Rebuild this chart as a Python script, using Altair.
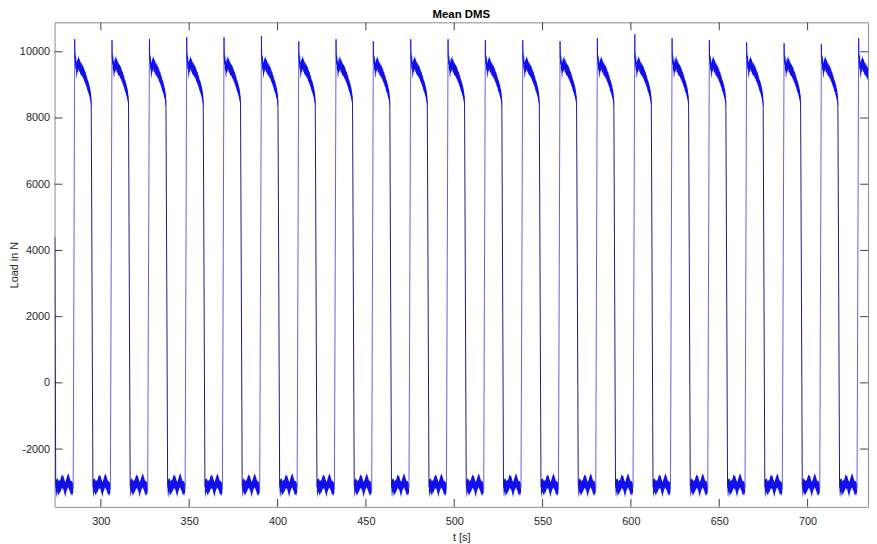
import altair as alt
import pandas as pd

# ---- values ----
# time (s) at the top of each rising edge, and the peak load (N) reached there
RISE_T = [285.2, 306.3, 327.5, 348.6, 369.7, 390.9, 412.0, 433.1, 454.2, 475.4, 496.5,
          517.6, 538.8, 559.9, 581.0, 602.2, 623.3, 644.4, 665.5, 686.7, 707.8, 728.9]
PEAK_V = [10380, 10350, 10380, 10440, 10440, 10470, 10320, 10380, 10320, 10380, 10380,
          10350, 10350, 10320, 10410, 10530, 10410, 10350, 10290, 10260, 10230, 10410]

# high (loaded) phase, seconds after the rising edge: upper / lower edge of the noisy trace
HIGH_DT = [0.1, 0.3, 0.5, 0.7, 0.9, 1.1, 1.3, 1.5, 1.7, 1.9, 2.1, 2.3, 2.5, 2.7, 2.9, 3.1,
           3.3, 3.5, 3.8, 4.1, 4.4, 4.7, 5.0, 5.3, 5.6, 5.9, 6.2, 6.5, 6.8, 7.1, 7.4, 7.7,
           8.0, 8.3, 8.6, 8.9, 9.15, 9.35]
HIGH_HI = [10000, 9950, 9850, 9900, 9750, 9650, 9700, 9800, 9750, 9850, 9800, 9900, 9800,
           9750, 9800, 9700, 9720, 9650, 9680, 9600, 9620, 9550, 9560, 9480, 9450, 9400,
           9380, 9300, 9280, 9200, 9150, 9120, 9050, 9000, 8920, 8850, 8750, 8650]
HIGH_LO = [9650, 9600, 9450, 9500, 9300, 9200, 9250, 9400, 9350, 9450, 9400, 9500, 9420,
           9380, 9400, 9320, 9350, 9280, 9300, 9250, 9250, 9180, 9200, 9120, 9100, 9050,
           9020, 8950, 8930, 8850, 8800, 8770, 8700, 8650, 8580, 8500, 8400, 8350]

# low (unloaded) phase, seconds after the end of the falling edge
LOW_START = 10.3          # falling edge ends this long after the rising edge
LOW_DT = [0.0, 0.3, 0.6, 0.9, 1.2, 1.5, 1.8, 2.1, 2.4, 2.7, 3.0, 3.3, 3.6, 3.9, 4.2, 4.5,
          4.8, 5.1, 5.4, 5.7, 6.0, 6.3, 6.6, 6.9, 7.2, 7.5, 7.8, 8.1, 8.4, 8.7, 9.0, 9.3,
          9.6, 9.9]
LOW_HI = [-2950, -2900, -2920, -2870, -2900, -2950, -2980, -2930, -2960, -2900, -2850,
          -2800, -2760, -2820, -2780, -2850, -2900, -2950, -3000, -2960, -2900, -2850,
          -2800, -2760, -2740, -2800, -2850, -2900, -2950, -2980, -2950, -3000, -3000,
          -3050]
LOW_LO = [-3300, -3480, -3320, -3280, -3420, -3340, -3400, -3310, -3330, -3280, -3240,
          -3200, -3170, -3230, -3180, -3260, -3320, -3380, -3460, -3360, -3290, -3240,
          -3200, -3170, -3160, -3220, -3250, -3300, -3360, -3400, -3340, -3420, -3350,
          -3320]

# the recording starts in the middle of a falling edge
START_T, START_V = 273.95, 4400
FIRST_LOW_T = 274.45

X_DOMAIN = [273.8, 734.2]
Y_DOMAIN = [-3745, 10889]
X_TICKS = [300, 350, 400, 450, 500, 550, 600, 650, 700]
Y_TICKS = [-2000, 0, 2000, 4000, 6000, 8000, 10000]

W, H = 821, 489
FONT = "Liberation Sans"

# ---- build tables ----
band_rows, line_rows = [], []
seg = [0]


def add_segment(points, kind):
    seg[0] += 1
    for t, v in points:
        line_rows.append({"t": t, "v": v, "seg": seg[0], "kind": kind})


def low_phase(t0):
    pts = []
    for dt, hi, lo in zip(LOW_DT, LOW_HI, LOW_LO):
        band_rows.append({"t": t0 + dt, "lo": lo, "hi": hi, "seg": f"l{t0}"})
        pts.append((t0 + dt, (hi + lo) / 2))
    return pts


# first partial cycle
first_low = low_phase(FIRST_LOW_T)
add_segment([(START_T, START_V), first_low[0]], "fall")
add_segment(first_low, "plateau")
prev_end = first_low[-1]

for rt, pk in zip(RISE_T, PEAK_V):
    add_segment([prev_end, (rt, pk)], "rise")
    high = [(rt, pk)]
    for dt, hi, lo in zip(HIGH_DT, HIGH_HI, HIGH_LO):
        band_rows.append({"t": rt + dt, "lo": lo, "hi": hi, "seg": f"h{rt}"})
        high.append((rt + dt, (hi + lo) / 2))
    add_segment(high, "plateau")
    if rt + LOW_START < X_DOMAIN[1]:
        low = low_phase(rt + LOW_START)
        add_segment([high[-1], low[0]], "fall")
        add_segment(low, "plateau")
        prev_end = low[-1]

band_df = pd.DataFrame(band_rows)
line_df = pd.DataFrame(line_rows)

xs = alt.Scale(domain=X_DOMAIN, nice=False, zero=False)
ys = alt.Scale(domain=Y_DOMAIN, nice=False, zero=False)

band = alt.Chart(band_df).mark_area(color="#1010ee", opacity=1, clip=True).encode(
    x=alt.X("t:Q", scale=xs,
            axis=alt.Axis(values=X_TICKS, title="t [s]", grid=False, ticks=False, domain=False,
                          labelFontSize=11, labelFont=FONT, labelColor="#262626",
                          labelPadding=9, titleFont=FONT, titleFontSize=11,
                          titleFontWeight="normal", titleColor="#262626", titlePadding=5,
                          format="d")),
    y=alt.Y("lo:Q", scale=ys,
            axis=alt.Axis(values=Y_TICKS, title="Load in N", grid=False, ticks=False,
                          domain=False, labelFontSize=11, labelFont=FONT,
                          labelColor="#262626", labelPadding=5, titleFont=FONT,
                          titleFontSize=11, titleFontWeight="normal", titleColor="#262626",
                          titlePadding=0,
                          labelExpr="datum.value < 0 ? '-' + format(-datum.value, 'd') : format(datum.value, 'd')")),
    y2="hi:Q",
    detail="seg:N",
)

line = alt.Chart(line_df).mark_line(strokeWidth=1, clip=True).encode(
    x=alt.X("t:Q", scale=xs),
    y=alt.Y("v:Q", scale=ys),
    detail="seg:N",
    order="t:Q",
    color=alt.Color("kind:N", legend=None,
                    scale=alt.Scale(domain=["plateau", "rise", "fall"],
                                    range=["#1010ee", "#6262d6", "#1a1a7e"])),
)

xt_df = pd.DataFrame({"t": X_TICKS})
yt_df = pd.DataFrame({"v": Y_TICKS})
TICK_C = "#404040"
ticks_bottom = alt.Chart(xt_df).mark_rule(color=TICK_C, strokeWidth=1).encode(
    x=alt.X("t:Q", scale=xs), y=alt.value(H), y2=alt.value(H - 8))
ticks_top = alt.Chart(xt_df).mark_rule(color=TICK_C, strokeWidth=1).encode(
    x=alt.X("t:Q", scale=xs), y=alt.value(0), y2=alt.value(8))
ticks_left = alt.Chart(yt_df).mark_rule(color=TICK_C, strokeWidth=1).encode(
    y=alt.Y("v:Q", scale=ys), x=alt.value(0), x2=alt.value(8))
ticks_right = alt.Chart(yt_df).mark_rule(color=TICK_C, strokeWidth=1).encode(
    y=alt.Y("v:Q", scale=ys), x=alt.value(W - 8), x2=alt.value(W))

chart = alt.layer(band, line, ticks_bottom, ticks_top, ticks_left, ticks_right).properties(
    width=W, height=H,
    title=alt.TitleParams("Mean DMS", font=FONT, fontSize=11.5, fontWeight="bold",
                          color="#000000", anchor="middle", offset=1),
    padding={"left": 47, "top": 12, "right": 1, "bottom": 35},
    autosize=alt.AutoSizeParams(type="none"),
    background="white",
).configure_view(stroke="#8c8c8c", strokeWidth=1)

chart.save("out.html", embed_options={"renderer": "svg", "actions": False})
